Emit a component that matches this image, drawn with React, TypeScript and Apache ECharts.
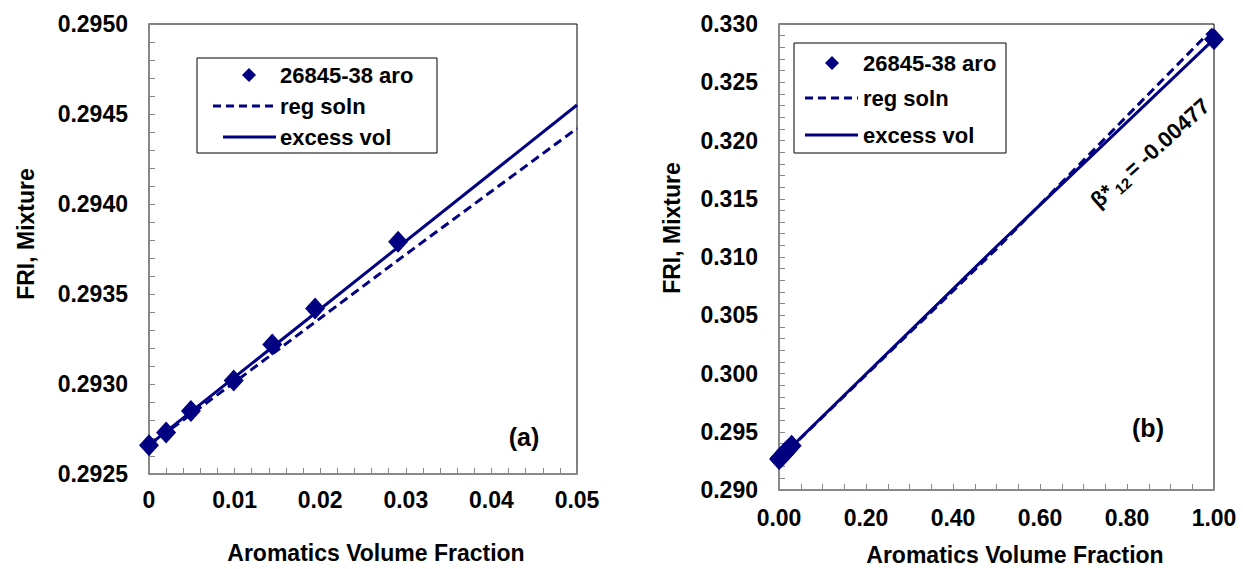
import React, { useEffect, useRef } from "react";
import * as echarts from "echarts";

const NAVY = "#000080";
const FONT = "'Liberation Sans', Arial, sans-serif";

// Measured points (aromatics volume fraction, FRI of mixture)
const fracA = [0, 0.002, 0.0049, 0.0099, 0.0144, 0.0194, 0.0291];
const friA = [0.29266, 0.29273, 0.29285, 0.29302, 0.29322, 0.29342, 0.29379];
const fracB = [0, 0.002, 0.0049, 0.0099, 0.0144, 0.0194, 0.0291, 1.0];
const friB = [0.29266, 0.29273, 0.29285, 0.29302, 0.29322, 0.29342, 0.29379, 0.3287];

// Model curves
const regSolnAx = [0, 0.01, 0.03, 0.05];
const regSolnAy = [0.29266, 0.29301, 0.29372, 0.29442];
const excessAx = [0, 0.05];
const excessAy = [0.29266, 0.29455];
const regSolnBx = [0, 0.5, 1.0];
const regSolnBy = [0.29266, 0.3107, 0.3297];
const excessBx = [0, 0.5, 1.0];
const excessBy = [0.29266, 0.3109, 0.3287];

const yTicksA = { min: 0.2925, max: 0.295, interval: 0.0005 };
const xTicksA = { min: 0, max: 0.05, interval: 0.01 };
const yTicksB = { min: 0.29, max: 0.33, interval: 0.005 };
const xTicksB = { min: 0, max: 1, interval: 0.2 };

const legendNames = ["26845-38 aro", "reg soln", "excess vol"];

const zip = (xs: number[], ys: number[]) => xs.map((x, i) => [x, ys[i]]);

const tickStyle = { color: "#888" };
const labelBase = { fontSize: 23, fontWeight: "bold" as const, color: "#000", fontFamily: FONT };

function axisCommon() {
  return {
    type: "value" as const,
    axisLine: { show: true, onZero: false, lineStyle: { color: "#888", width: 2 } },
    axisTick: { show: true, inside: true, length: 6, lineStyle: tickStyle },
    splitLine: { show: false },
  };
}

function legendGraphics(x0: number, y0: number, w: number, h: number, dx: number, lx0: number, lx0b: number, lx1: number, tx: number, ys: number[]) {
  return [
    { type: "rect", shape: { x: x0, y: y0, width: w, height: h }, style: { fill: "#fff", stroke: "#000", lineWidth: 1 }, z: 10 },
    { type: "polygon", shape: { points: [[dx, ys[0] - 7], [dx + 7, ys[0]], [dx, ys[0] + 7], [dx - 7, ys[0]]] }, style: { fill: NAVY }, z: 11 },
    { type: "line", shape: { x1: lx0, y1: ys[1], x2: lx1, y2: ys[1] }, style: { stroke: NAVY, lineWidth: 3, lineDash: [8, 5] }, z: 11 },
    { type: "line", shape: { x1: lx0b, y1: ys[2], x2: lx1, y2: ys[2] }, style: { stroke: NAVY, lineWidth: 3 }, z: 11 },
    ...legendNames.map((n, i) => ({
      type: "text", x: tx, y: ys[i], z: 11,
      style: { text: n, font: `bold 22px ${FONT}`, fill: "#000", verticalAlign: "middle", align: "left" },
    })),
  ];
}

export default function App() {
  const ref = useRef<HTMLDivElement>(null);
  useEffect(() => {
    if (!ref.current) return;
    const chart = echarts.init(ref.current, null, { renderer: "svg" });
    const option: any = {
      animation: false,
      backgroundColor: "#fff",
      grid: [
        { left: 149, top: 24, width: 428, height: 450, show: true, borderColor: "#000", borderWidth: 1, backgroundColor: "transparent" },
        { left: 779, top: 24, width: 435, height: 466, show: true, borderColor: "#000", borderWidth: 1, backgroundColor: "transparent" },
      ],
      xAxis: [
        {
          ...axisCommon(), gridIndex: 0, ...xTicksA,
          minorTick: { show: true, splitNumber: 5, length: 6, lineStyle: tickStyle },
          axisLabel: { ...labelBase, margin: 14, formatter: (v: number) => (v === 0 ? "0" : v.toFixed(2)) },
        },
        {
          ...axisCommon(), gridIndex: 1, ...xTicksB,
          minorTick: { show: true, splitNumber: 4, length: 6, lineStyle: tickStyle },
          axisLabel: { ...labelBase, margin: 16, formatter: (v: number) => v.toFixed(2) },
        },
      ],
      yAxis: [
        {
          ...axisCommon(), gridIndex: 0, ...yTicksA,
          minorTick: { show: true, splitNumber: 5, length: 6, lineStyle: tickStyle },
          axisLabel: { ...labelBase, margin: 21, formatter: (v: number) => v.toFixed(4) },
        },
        {
          ...axisCommon(), gridIndex: 1, ...yTicksB,
          minorTick: { show: true, splitNumber: 5, length: 6, lineStyle: tickStyle },
          axisLabel: { ...labelBase, margin: 21, formatter: (v: number) => v.toFixed(3) },
        },
      ],
      series: [
        { type: "line", name: legendNames[1], xAxisIndex: 0, yAxisIndex: 0, data: zip(regSolnAx, regSolnAy), showSymbol: false, lineStyle: { color: NAVY, width: 3, type: [9, 5] } },
        { type: "line", name: legendNames[2], xAxisIndex: 0, yAxisIndex: 0, data: zip(excessAx, excessAy), showSymbol: false, lineStyle: { color: NAVY, width: 3 } },
        { type: "scatter", name: legendNames[0], xAxisIndex: 0, yAxisIndex: 0, data: zip(fracA, friA), symbol: "diamond", symbolSize: [20, 22], itemStyle: { color: NAVY, opacity: 1 }, z: 5 },
        { type: "line", name: legendNames[1], xAxisIndex: 1, yAxisIndex: 1, data: zip(regSolnBx, regSolnBy), showSymbol: false, lineStyle: { color: NAVY, width: 3, type: [9, 5] } },
        { type: "line", name: legendNames[2], xAxisIndex: 1, yAxisIndex: 1, data: zip(excessBx, excessBy), showSymbol: false, lineStyle: { color: NAVY, width: 3 } },
        { type: "scatter", name: legendNames[0], xAxisIndex: 1, yAxisIndex: 1, data: zip(fracB, friB), symbol: "diamond", symbolSize: [20, 22], itemStyle: { color: NAVY, opacity: 1 }, z: 5 },
      ],
      graphic: [
        ...legendGraphics(197, 58, 240, 95, 249, 213, 223, 276, 280, [75, 106, 137]),
        ...legendGraphics(794, 43, 212, 110, 832, 805, 805, 858, 863, [63, 98, 135]),
        { type: "text", x: 26, y: 234, rotation: Math.PI / 2, style: { text: "FRI, Mixture", font: `bold 23px ${FONT}`, fill: "#000", align: "center", verticalAlign: "middle" } },
        { type: "text", x: 672, y: 228, rotation: Math.PI / 2, style: { text: "FRI, Mixture", font: `bold 23px ${FONT}`, fill: "#000", align: "center", verticalAlign: "middle" } },
        { type: "text", x: 376, y: 553, style: { text: "Aromatics Volume Fraction", font: `bold 23px ${FONT}`, fill: "#000", align: "center", verticalAlign: "middle" } },
        { type: "text", x: 1015, y: 555, style: { text: "Aromatics Volume Fraction", font: `bold 23px ${FONT}`, fill: "#000", align: "center", verticalAlign: "middle" } },
        { type: "text", x: 524, y: 437, style: { text: "(a)", font: `bold 25px ${FONT}`, fill: "#000", align: "center", verticalAlign: "middle" } },
        { type: "text", x: 1148, y: 428, style: { text: "(b)", font: `bold 25px ${FONT}`, fill: "#000", align: "center", verticalAlign: "middle" } },
        {
          type: "text", x: 1150, y: 153, rotation: (41.8 * Math.PI) / 180,
          style: {
            text: "{b|β*} {s|12} {b|= -0.00477}",
            align: "center", verticalAlign: "middle",
            rich: {
              b: { font: `bold 22px ${FONT}`, fill: "#000", lineHeight: 28, verticalAlign: "middle" },
              s: { font: `bold 15px ${FONT}`, fill: "#000", lineHeight: 28, verticalAlign: "bottom", padding: [12, 0, 0, 0] },
            },
          },
        },
      ],
    };
    chart.setOption(option);
    return () => chart.dispose();
  }, []);
  return <div ref={ref} style={{ position: "fixed", left: 0, top: 0, width: 1243, height: 569 }} />;
}
